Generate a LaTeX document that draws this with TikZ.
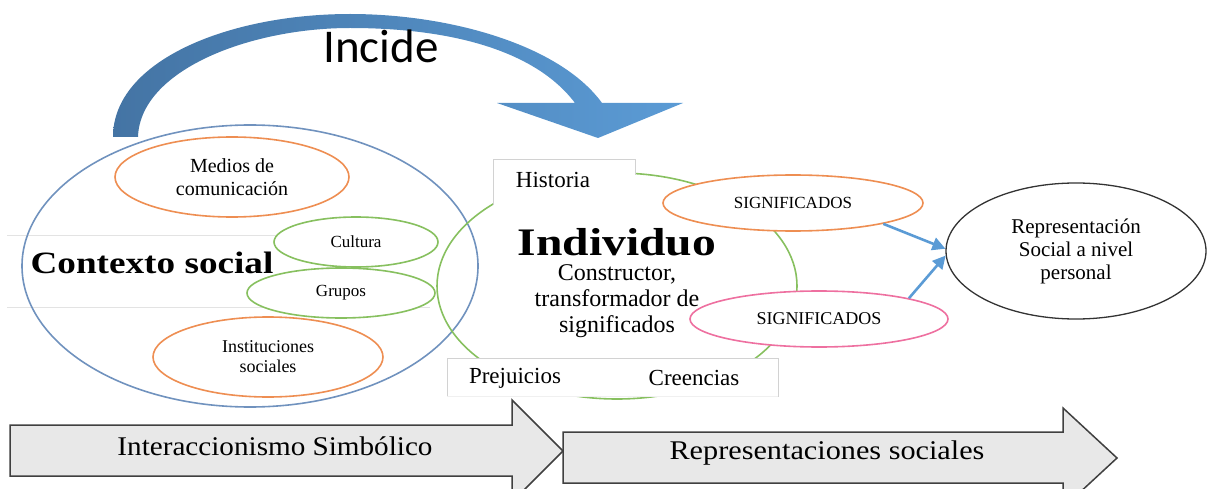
\documentclass[tikz,border=0pt]{standalone}
\usepackage{fontspec}
\setmainfont{Liberation Serif}
\newfontfamily\incfont{Carlito}
\usetikzlibrary{arrows.meta,shapes.geometric}
\definecolor{ctxblue}{RGB}{112,146,190}
\definecolor{orng}{RGB}{238,142,82}
\definecolor{grn}{RGB}{135,192,95}
\definecolor{pnk}{RGB}{238,112,160}
\definecolor{arrblue}{RGB}{91,155,213}
\definecolor{darkblue}{RGB}{68,116,164}
\definecolor{boxgray}{RGB}{210,210,210}
\definecolor{arrfill}{RGB}{232,232,232}
\tikzset{
  ell/.style={ellipse, inner sep=0pt, line width=1.6pt, fill=white, align=center},
  lbl/.style={inner sep=0pt, align=center},
  conn/.style={draw=arrblue, line width=2.6pt, -{Triangle[length=13pt,width=13pt]}},
  bigarrow/.style={fill=arrfill, draw=black!75, line width=1.5pt, line join=miter},
  tbox/.style={draw=boxgray, line width=1pt}
}
\begin{document}
\begin{tikzpicture}[x=1pt,y=-1pt]
\useasboundingbox (0,0) rectangle (1207,489);
\clip (0,0) rectangle (1207,489);

% curved "Incide" arrow
\shade[left color=darkblue, right color=arrblue]
  (113,137) .. controls (113,60) and (230,14) .. (350,14)
  .. controls (450,14) and (560,45) .. (602,103)
  -- (683,103) -- (598,138) -- (497,103) -- (575,103)
  .. controls (535,50) and (450,28) .. (350,28)
  .. controls (250,28) and (140,70) .. (138,137) -- cycle;
\node[lbl, font=\incfont\fontsize{47}{47}\selectfont] (inc) at (381,46) {Incide};

% faint horizontal lines
\draw[gray!22, line width=1pt] (7,235) -- (430,235);
\draw[gray!22, line width=1pt] (7,307) -- (430,307);

% context ellipse
\node[ell, draw=ctxblue, fill=none, minimum width=456pt, minimum height=282pt] (ctx) at (250,266) {};
% individual ellipse
\node[ell, draw=grn, fill=none, minimum width=360pt, minimum height=226pt] (ind) at (617,286) {};

\node[ell, draw=orng, minimum width=234pt, minimum height=80pt, font=\fontsize{20}{23}\selectfont] (med) at (232,177) {Medios de\\comunicación};
\node[ell, draw=grn, minimum width=164pt, minimum height=50pt, font=\fontsize{17}{19}\selectfont] (cul) at (356,242) {Cultura};
\node[ell, draw=grn, minimum width=188pt, minimum height=50pt, font=\fontsize{17}{19}\selectfont] (gru) at (341,293) {Grupos};
\node[ell, draw=orng, minimum width=230pt, minimum height=80pt, font=\fontsize{18}{20}\selectfont] (ins) at (268,357) {Instituciones\\sociales};

\node[lbl, font=\fontsize{31}{31}\selectfont\bfseries] (ctxt) at (152,263) {\scalebox{1.2}[1]{Contexto social}};

% Historia box
\fill[white] (493,160) rectangle (635,205);
\draw[tbox] (493,205) -- (493,160) -- (635,160) -- (635,175);
\node[lbl, font=\fontsize{23}{23}\selectfont] (hist) at (553,180) {Historia};

% bottom box
\fill[white] (447,358) rectangle (778,396);
\draw[tbox] (447,396) -- (447,358) -- (778,358) -- (778,397);
\draw[gray!12, line width=1pt] (447,396) -- (778,396);
\node[lbl, font=\fontsize{23}{23}\selectfont] (prej) at (515,378) {Prejuicios};
\node[lbl, font=\fontsize{23}{23}\selectfont] (cree) at (694,378) {Creencias};

% Individuo texts
\node[lbl, font=\fontsize{39}{39}\selectfont\bfseries] (indt) at (617,242) {\scalebox{1.22}[1]{Individuo}};
\node[lbl, font=\fontsize{24}{26}\selectfont] (cons) at (617,301) {Constructor,\\transformador de\\significados};

% significados
\node[ell, draw=orng, minimum width=260pt, minimum height=56pt, font=\fontsize{17}{19}\selectfont] (sig1) at (793,203) {SIGNIFICADOS};
\node[ell, draw=pnk, minimum width=258pt, minimum height=56pt, font=\fontsize{18}{20}\selectfont] (sig2) at (819,319) {SIGNIFICADOS};

% representation
\node[ell, draw=black!80, line width=1.3pt, minimum width=260pt, minimum height=136pt, font=\fontsize{21}{23}\selectfont] (rep) at (1076,251) {Representación\\Social a nivel\\personal};

\draw[conn] (sig1.-13) -- (rep.179);
\draw[conn] (sig2.13) -- (rep.182);

% bottom arrows
\draw[bigarrow] (10,425) -- (512,425) -- (512,400) -- (563,451) -- (512,502) -- (512,476) -- (10,476) -- cycle;
\node[lbl, font=\fontsize{27}{27}\selectfont] (isim) at (275,446) {\scalebox{1.08}[1]{Interaccionismo Simbólico}};
\draw[bigarrow] (563,432) -- (1063,432) -- (1063,408) -- (1117,458) -- (1063,508) -- (1063,483) -- (563,483) -- cycle;
\node[lbl, font=\fontsize{27}{27}\selectfont] (rsoc) at (827,453) {\scalebox{1.12}[1]{Representaciones sociales}};
\end{tikzpicture}
\end{document}
